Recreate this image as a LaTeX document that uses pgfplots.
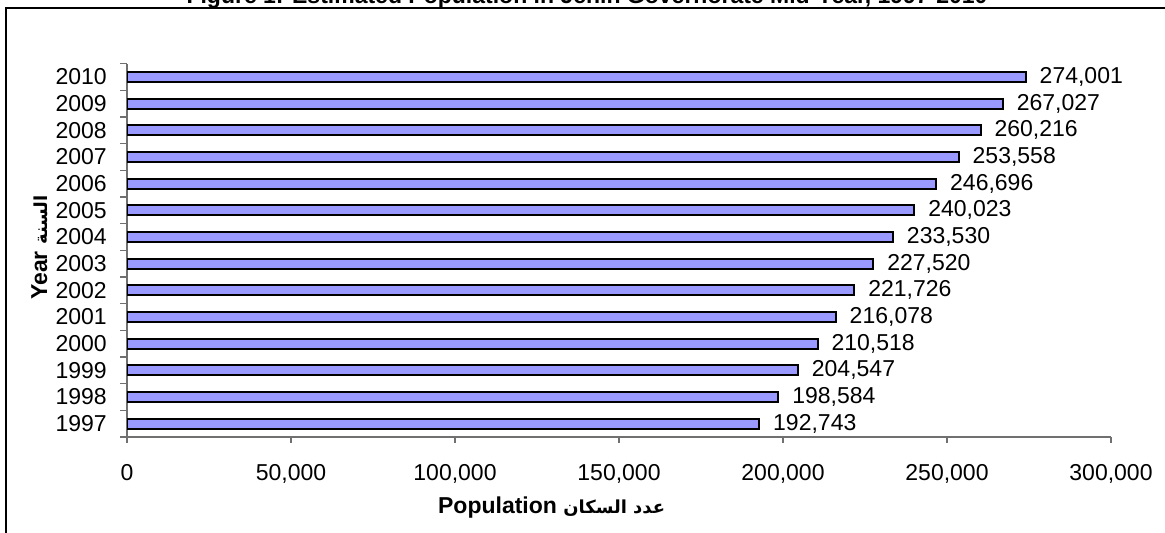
\documentclass[border=0pt]{standalone}
\usepackage{fontspec}
\setmainfont{Liberation Sans}
\newfontfamily\arabicfont[Script=Arabic, Scale=0.78]{DejaVu Sans}
\TeXXeTstate=1
\usepackage{pgfplots}
\pgfplotsset{compat=1.18}
\definecolor{barfill}{HTML}{9999FF}
\definecolor{axisgray}{HTML}{707070}
\newcommand\sz{\fontsize{23bp}{27bp}\selectfont}

\begin{document}
\sz
\begin{tikzpicture}
\useasboundingbox (0,0) rectangle (1165bp,533bp);
\clip (0,0) rectangle (1165bp,533bp);
% frame and the (cut off) title
\draw[line width=2bp] (6bp,-10bp) -- (6bp,525bp) -- (1180bp,525bp);
\node[anchor=base, font=\bfseries, inner sep=0pt] at (587bp,529bp)
  {Figure 1: Estimated Population in Jenin Governorate Mid-Year, 1997-2010};
\begin{axis}[
    at={(127bp,96bp)}, anchor=south west,
    scale only axis, width=984bp, height=373.3bp,
    xbar, bar width=10bp,
    xmin=0, xmax=300000,
    ymin=1996.5, ymax=2010.5,
    axis lines*=left,
    axis line style={draw=axisgray, line width=1.2bp},
    tick align=outside,
    major tick length=6bp, minor tick length=7bp,
    xtick={0,50000,...,300000},
    ytick={1997,...,2010},
    minor ytick={1996.5,1997.5,...,2010.5},
    major x tick style={draw=axisgray, line width=1.2bp},
    major y tick style={draw=none},
    minor y tick style={draw=axisgray, line width=1.2bp},
    scaled x ticks=false,
    xticklabel={\pgfmathprintnumber[fixed,precision=0,1000 sep={,}]{\tick}},
    yticklabel={\pgfmathprintnumber[1000 sep={}]{\tick}},
    x tick label style={anchor=north, inner sep=0pt, yshift=-21bp},
    y tick label style={anchor=east, inner sep=0pt, xshift=-14bp},
    point meta=x,
    nodes near coords={\pgfmathprintnumber[fixed,precision=0,1000 sep={,}]{\pgfplotspointmeta}},
    nodes near coords style={anchor=west, inner sep=0pt, xshift=13bp},
    xlabel={\bfseries Population {\arabicfont\bfseries\beginR عدد السكان\endR}},
    ylabel={\bfseries Year {\arabicfont\bfseries\beginR السنة\endR}},
    xlabel style={at={(axis description cs:0.316,-0.2036)}, anchor=base west, inner sep=0pt},
    ylabel style={at={(axis description cs:-0.0813,0.367)}, anchor=base west, inner sep=0pt, rotate=0},
    /pgf/number format/assume math mode=true,
]
\addplot[draw=black, line width=2bp, fill=barfill] coordinates {
    (192743,1997) (198584,1998) (204547,1999) (210518,2000)
    (216078,2001) (221726,2002) (227520,2003) (233530,2004)
    (240023,2005) (246696,2006) (253558,2007) (260216,2008)
    (267027,2009) (274001,2010)
};
\end{axis}
\end{tikzpicture}
\end{document}
